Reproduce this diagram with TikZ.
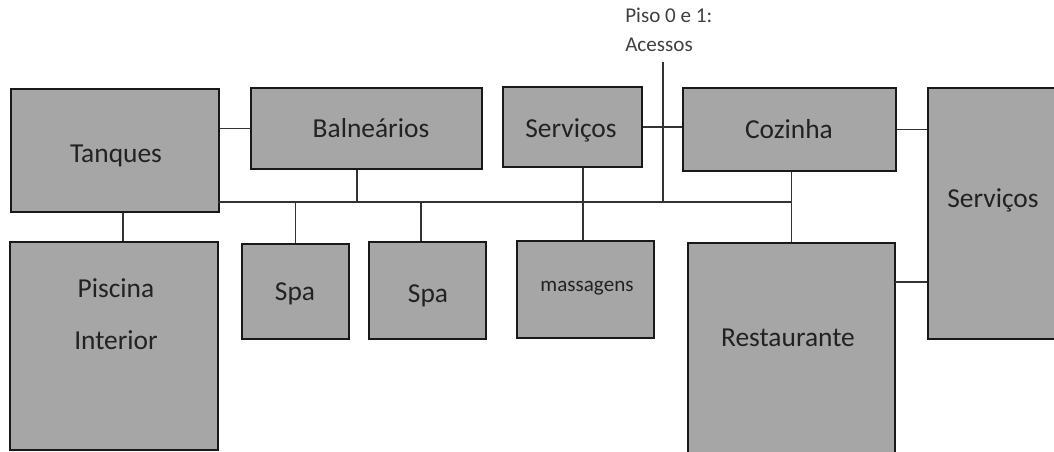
\documentclass[tikz,border=0pt]{standalone}
\usepackage{fontspec}
\setmainfont{Carlito}
\usetikzlibrary{positioning,fit,calc}

\definecolor{cinza}{HTML}{A6A6A6}
\definecolor{tinta}{HTML}{222222}
\newcommand{\px}{0.025cm}

\begin{document}
\begin{tikzpicture}[x=\px, y=-\px,
    sala/.style={draw=black!90, line width=1.4pt, fill=cinza, inner sep=0pt},
    texto/.style={text=tinta, font=\fontsize{19.5}{23}\selectfont, anchor=base, inner sep=0pt},
    pequeno/.style={texto, font=\fontsize{15}{18}\selectfont},
    nota/.style={text=black!75, font=\fontsize{15}{18}\selectfont, anchor=base west, inner sep=0pt},
    liga/.style={draw=black!80, line width=0.8pt}]

    \useasboundingbox (0,0) rectangle (1054,452);

    % Rooms, top row
    \node[sala, fit={(11,89) (219,212)}] (tanques) {};
    \node[sala, fit={(251,88) (482,169)}] (balneario) {};
    \node[sala, fit={(503,87) (642,167)}] (servicos) {};
    \node[sala, fit={(683,88) (896,171)}] (cozinha) {};
    \node[sala, fit={(928,88) (1062,339)}] (servicosB) {};

    % Rooms, bottom row
    \node[sala, fit={(10,242) (218,450)}] (piscina) {};
    \node[sala, fit={(242,244) (349,339)}] (spaA) {};
    \node[sala, fit={(369,242) (486,339)}] (spaB) {};
    \node[sala, fit={(517,241) (654,338)}] (massagens) {};
    \node[sala, fit={(688,243) (895,466)}] (restaurante) {};

    % Names
    \node[texto] (tTanques) at (116,163) {Tanques};
    \node[texto] (tBalneario) at (371,138) {Balneários};
    \node[texto] (tServicos) at (571,138) {Serviços};
    \node[texto] (tCozinha) at (789,139) {Cozinha};
    \node[texto] (tServicosB) at (993,208) {Serviços};
    \node[texto] (tPiscina) at (116,298) {Piscina};
    \node[texto] (tInterior) at (116,350) {Interior};
    \node[texto] (tSpaA) at (295,301) {Spa};
    \node[texto] (tSpaB) at (428,303) {Spa};
    \node[pequeno] (tMassagens) at (587,292) {massagens};
    \node[texto] (tRestaurante) at (788,347) {Restaurante};

    % Access note
    \node[nota] (piso) at (625,23) {Piso 0 e 1:};
    \node[nota] (acessos) at (625,52) {Acessos};

    % Corridor
    \coordinate (corW) at (218,202);
    \coordinate (acTopo) at (663,62);
    \coordinate (rsLiga) at (895,282);
    \draw[liga] (corW) -- (corW -| restaurante.north);
    \draw[liga] (acTopo) -- (acTopo |- corW);

    % Links
    \draw[liga] (tanques.east |- balneario.west) -- (balneario.west);
    \draw[liga] (servicos.east) -- (servicos.east -| cozinha.west);
    \draw[liga] (cozinha.east) -- (cozinha.east -| servicosB.west);
    \draw[liga] (rsLiga) -- (rsLiga -| servicosB.west);
    \draw[liga] (123,0 |- tanques.south) -- (123,0 |- piscina.north);
    \draw[liga] (357,0 |- balneario.south) -- (357,0 |- corW);
    \draw[liga] (spaA.north) -- (spaA.north |- corW);
    \draw[liga] (421,0 |- spaB.north) -- (421,0 |- corW);
    \draw[liga] (583,0 |- servicos.south) -- (583,0 |- massagens.north);
    \draw[liga] (restaurante.north) -- (restaurante.north |- cozinha.south);

\end{tikzpicture}
\end{document}
